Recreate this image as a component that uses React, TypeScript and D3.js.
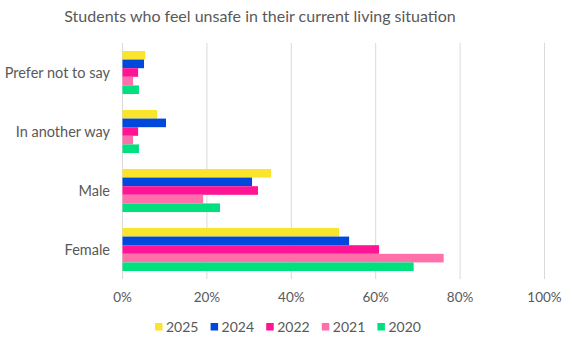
import React from "react";
import * as d3 from "d3";

const categories = ["Prefer not to say", "In another way", "Male", "Female"];
const seriesNames = ["2025", "2024", "2022", "2021", "2020"];
const values2025 = [5.4, 8.2, 35.2, 51.3];
const values2024 = [5.1, 10.3, 30.7, 53.7];
const values2022 = [3.7, 3.7, 32.1, 60.8];
const values2021 = [2.5, 2.5, 19.1, 76.1];
const values2020 = [3.9, 3.9, 23.1, 69.0];
const xTicks = [0, 20, 40, 60, 80, 100];
const colors = ["#FAE42C", "#0047DB", "#FF1496", "#FF70AB", "#00E07F"];

const allSeries = [values2025, values2024, values2022, values2021, values2020];

const W = 572;
const H = 341;
const left = 122.5;
const right = 544.5;
const top = 43;
const bottom = 279;
const font = "Lato, 'Open Sans', sans-serif";
const textColor = "#595959";

export default function App() {
  const x = d3.scaleLinear().domain([0, 100]).range([left, right]);
  const y = d3
    .scaleBand<string>()
    .domain(categories)
    .range([top, bottom])
    .paddingInner(0.27)
    .paddingOuter(0.135);
  const inner = d3
    .scaleBand<string>()
    .domain(seriesNames)
    .range([0, y.bandwidth()]);

  const legendStart = 155;
  const legendStep = 55.6;

  return (
    <svg
      width={W}
      height={H}
      style={{ position: "absolute", left: 0, top: 0, background: "#fff" }}
      fontFamily={font}
    >
      <text
        x={260}
        y={22}
        textAnchor="middle"
        fontSize={16}
        fill={textColor}
      >
        Students who feel unsafe in their current living situation
      </text>
      {xTicks.map((t) => (
        <g key={t}>
          <line
            x1={x(t)}
            x2={x(t)}
            y1={top}
            y2={bottom}
            stroke="#d9d9d9"
            strokeWidth={1}
          />
          <text
            x={x(t)}
            y={302}
            textAnchor="middle"
            fontSize={13.5}
            fill={textColor}
          >
            {t}%
          </text>
        </g>
      ))}
      {categories.map((c, ci) => (
        <g key={c}>
          <text
            x={110}
            y={(y(c) as number) + y.bandwidth() / 2 + 5}
            textAnchor="end"
            fontSize={14.5}
            fill={textColor}
          >
            {c}
          </text>
          {seriesNames.map((s, si) => (
            <rect
              key={s}
              x={x(0)}
              y={(y(c) as number) + (inner(s) as number)}
              width={x(allSeries[si][ci]) - x(0)}
              height={inner.bandwidth()}
              fill={colors[si]}
            />
          ))}
        </g>
      ))}
      {seriesNames.map((s, si) => (
        <g key={s} transform={`translate(${legendStart + si * legendStep},0)`}>
          <rect x={0} y={323} width={7.5} height={7.5} fill={colors[si]} />
          <text x={11} y={332} fontSize={14} fill={textColor}>
            {s}
          </text>
        </g>
      ))}
    </svg>
  );
}
